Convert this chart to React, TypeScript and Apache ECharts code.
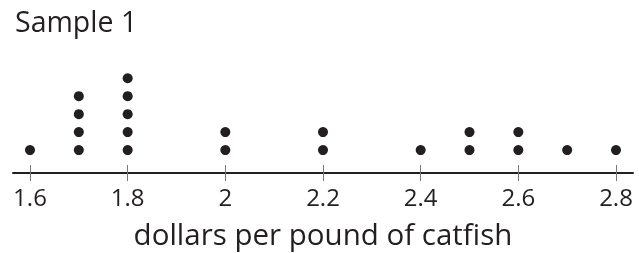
import React, { useEffect, useRef } from "react";
import * as echarts from "echarts";

const prices = [1.6, 1.7, 1.8, 2.0, 2.2, 2.4, 2.5, 2.6, 2.7, 2.8];
const counts = [1, 4, 5, 2, 2, 1, 2, 2, 1, 1];
const tickValues = [1.6, 1.8, 2.0, 2.2, 2.4, 2.6, 2.8];
const titleText = "Sample 1";
const axisTitle = "dollars per pound of catfish";

const INK = "#231f20";
const FONT = "'Open Sans', 'Noto Sans', sans-serif";

export default function App() {
  const ref = useRef<HTMLDivElement>(null);
  useEffect(() => {
    if (!ref.current) return;
    const chart = echarts.init(ref.current, null, { renderer: "svg" });
    const dots: number[][] = [];
    prices.forEach((p, i) => {
      for (let k = 1; k <= counts[i]; k++) dots.push([p, k]);
    });
    const xMin = 1.5652;
    const xMax = 2.8348;
    const baseAxis = {
      type: "value",
      min: xMin,
      max: xMax,
      position: "bottom",
      offset: 5,
      splitLine: { show: false },
    };
    chart.setOption({
      animation: false,
      title: {
        text: titleText,
        left: 10,
        top: 1,
        textStyle: { color: INK, fontFamily: FONT, fontWeight: "normal", fontSize: 28.5 },
      },
      grid: {
        left: 13,
        right: 6,
        top: 60.3,
        bottom: 85,
        containLabel: false,
        outerBoundsMode: "none",
      },
      xAxis: [
        {
          ...baseAxis,
          axisLine: { show: true, onZero: false, lineStyle: { color: INK, width: 2 } },
          axisTick: {
            show: true,
            inside: false,
            length: 8,
            customValues: tickValues,
            lineStyle: { color: "#777777", width: 1 },
          },
          axisLabel: {
            show: true,
            customValues: tickValues,
            margin: 11,
            color: INK,
            fontFamily: FONT,
            fontSize: 24,
            formatter: (v: number) => String(Math.round(v * 10) / 10),
          },
          name: axisTitle,
          nameLocation: "middle",
          nameGap: 45,
          nameTextStyle: { color: INK, fontFamily: FONT, fontSize: 29.5 },
        },
        {
          ...baseAxis,
          axisLine: { show: false, onZero: false },
          axisTick: {
            show: true,
            inside: true,
            length: 8,
            customValues: tickValues,
            lineStyle: { color: "#777777", width: 1 },
          },
          axisLabel: { show: false },
        },
      ],
      yAxis: { type: "value", min: 0, max: 6, show: false },
      series: [
        {
          type: "scatter",
          xAxisIndex: 0,
          data: dots,
          symbol: "circle",
          symbolSize: 10,
          itemStyle: { color: INK, opacity: 1 },
        },
      ],
    });
    return () => chart.dispose();
  }, []);
  return (
    <div
      ref={ref}
      style={{ position: "fixed", left: 0, top: 0, width: 639, height: 253 }}
    />
  );
}
